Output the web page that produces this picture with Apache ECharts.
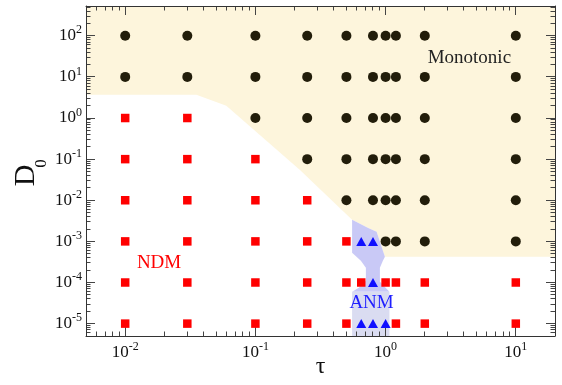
<!DOCTYPE html>
<html><head><meta charset="utf-8">
<script src="https://cdn.jsdelivr.net/npm/echarts@6/dist/echarts.min.js"></script>
<style>html,body{margin:0;padding:0;background:#fff}#c{width:562px;height:385px}</style>
</head><body><div id="c"></div>
<script>
// ---- data ----
const tauRange = [0.005, 20];
const d0Range = [5e-6, 530];
const tauTickLabels = [0.01, 0.1, 1, 10];
const d0TickLabels = [1e-5, 1e-4, 1e-3, 1e-2, 1e-1, 1, 10, 100];

const monotonicPts = [
  [0.01,100],[0.03,100],[0.1,100],[0.25,100],[0.5,100],[0.8,100],[1.0,100],[1.2,100],[2,100],[10,100],
  [0.01,10],[0.03,10],[0.1,10],[0.25,10],[0.5,10],[0.8,10],[1.0,10],[1.2,10],[2,10],[10,10],
  [0.1,1],[0.25,1],[0.5,1],[0.8,1],[1.0,1],[1.2,1],[2,1],[10,1],
  [0.25,0.1],[0.5,0.1],[0.8,0.1],[1.0,0.1],[1.2,0.1],[2,0.1],[10,0.1],
  [0.5,0.01],[0.8,0.01],[1.0,0.01],[1.2,0.01],[2,0.01],[10,0.01],
  [1.0,1e-3],[1.2,1e-3],[2,1e-3],[10,1e-3]
];
const ndmPts = [
  [0.01,1],[0.03,1],
  [0.01,0.1],[0.03,0.1],[0.1,0.1],
  [0.01,0.01],[0.03,0.01],[0.1,0.01],[0.25,0.01],
  [0.01,1e-3],[0.03,1e-3],[0.1,1e-3],[0.25,1e-3],[0.5,1e-3],
  [0.01,1e-4],[0.03,1e-4],[0.1,1e-4],[0.25,1e-4],[0.5,1e-4],[0.65,1e-4],[1.0,1e-4],[1.2,1e-4],[2,1e-4],[10,1e-4],
  [0.01,1e-5],[0.03,1e-5],[0.1,1e-5],[0.25,1e-5],[0.5,1e-5],[1.2,1e-5],[2,1e-5],[10,1e-5]
];
const anmPts = [
  [0.65,1e-3],[0.8,1e-3],
  [0.8,1e-4],
  [0.65,1e-5],[0.8,1e-5],[1.0,1e-5]
];

const monotonicRegion = [
  [0.005,530],[20,530],[20,4.25e-4],[0.988,4.25e-4],[0.853,1.72e-3],[0.735,2.12e-3],
  [0.553,3.36e-3],[0.219,0.0553],[0.0598,1.99],[0.0352,3.68],[0.005,3.68]
];
const anmUpperRegion = [
  [0.553,3.36e-3],[0.735,2.12e-3],[0.853,1.72e-3],[0.988,4.25e-4],[0.953,3.40e-4],
  [0.904,2.30e-4],[0.904,1.05e-4],[1.07,5.98e-5],[0.553,5.98e-5],[0.623,7.5e-5],
  [0.7056,1.11e-4],[0.7056,2.30e-4],[0.6457,3.40e-4],[0.553,5.31e-4]
];
const anmLowerRegion = [
  [0.553,5.98e-5],[1.07,5.98e-5],[1.07,5e-6],[0.553,5e-6]
];

// ---- helpers ----
const SERIF = '"Liberation Serif","Times New Roman",serif';
function minorTicks(range){
  const out=[];
  for(let e=-7;e<=4;e++){ for(let m=2;m<=9;m++){ const v=m*Math.pow(10,e); if(v>=range[0]&&v<=range[1]) out.push(v);} }
  return out;
}
const supRich = {
  b:{fontSize:17,fontFamily:SERIF,color:'#111'},
  s:{fontSize:12,fontFamily:SERIF,color:'#111',padding:[0,0,11,0]}
};
function expFmt(v){ return '{b|10}{s|'+Math.round(Math.log10(v))+'}'; }

function mkAxis(kind, pos, range, major, withLabels, extra){
  const ax = {
    type:'log', logBase:10, min:range[0], max:range[1], position:pos, z:10,
    axisLine:{show:true, onZero:false, lineStyle:{color:'#333',width:1}},
    axisTick:{show:false},
    axisLabel:{show:withLabels, customValues:major, formatter:expFmt, rich:supRich, margin:kind==='x'?5:4},
    splitLine:{show:false}, minorTick:{show:false}
  };
  return Object.assign(ax, extra||{});
}

const xAxes = [
  mkAxis('x','bottom',tauRange,tauTickLabels,true,{
    name:'τ', nameLocation:'middle', nameGap:19, nameMoveOverlap:false,
    nameTextStyle:{fontSize:24,fontFamily:SERIF,color:'#111'}
  }),
  mkAxis('x','top',tauRange,tauTickLabels,false)
];
const yAxes = [
  mkAxis('y','left',d0Range,d0TickLabels,true,{
    name:'{D|D}{s|0}', nameLocation:'middle', nameGap:36, nameRotate:90, nameMoveOverlap:false,
    nameTextStyle:{rich:{
      D:{fontSize:30,fontFamily:SERIF,color:'#111',width:15},
      s:{fontSize:17,fontFamily:SERIF,color:'#111',padding:[31,0,0,0],width:9}
    }}
  }),
  mkAxis('y','right',d0Range,d0TickLabels,false)
];

function regionSeries(region, color, z){
  return {
    type:'custom', xAxisIndex:0, yAxisIndex:0, z:z, silent:true, clip:true,
    data:[[1,1]],
    renderItem:function(params, api){
      const pts = region.map(p=>api.coord(p));
      return {type:'polygon', shape:{points:pts}, style:{fill:color, stroke:null}};
    }
  };
}

// inside tick marks for one side, drawn as a single comb-shaped polygon
// whose teeth are placed through the axes' own log scales
const tauTicks = tauTickLabels.map(v=>[v,9]).concat(minorTicks(tauRange).map(v=>[v,4.5]));
const d0Ticks = d0TickLabels.map(v=>[v,9]).concat(minorTicks(d0Range).map(v=>[v,4.5]));
function combSeries(side){
  return {
    type:'custom', xAxisIndex:0, yAxisIndex:0, z:2, silent:true, clip:true,
    data:[[1,1]],
    renderItem:function(params, api){
      const isX = side==='bottom' || side==='top';
      const list = (isX ? tauTicks : d0Ticks).map(t=>{
        const p = isX
          ? api.coord([t[0], side==='bottom' ? d0Range[0] : d0Range[1]])
          : api.coord([side==='left' ? tauRange[0] : tauRange[1], t[0]]);
        return {p:p, len:t[1]};
      });
      list.sort((a,b)=> isX ? a.p[0]-b.p[0] : a.p[1]-b.p[1]);
      const pts = [];
      list.forEach(it=>{
        const p = it.p, L = it.len;
        if (side==='bottom') { const x=Math.floor(p[0]), y=p[1]; pts.push([x,y],[x,y-L],[x+1,y-L],[x+1,y]); }
        else if (side==='top') { const x=Math.floor(p[0]), y=p[1]; pts.push([x,y],[x,y+L],[x+1,y+L],[x+1,y]); }
        else if (side==='left') { const y=Math.floor(p[1]), x=p[0]; pts.push([x,y],[x+L,y],[x+L,y+1],[x,y+1]); }
        else { const y=Math.floor(p[1]), x=p[0]; pts.push([x,y],[x-L,y],[x-L,y+1],[x,y+1]); }
      });
      return {type:'polygon', shape:{points:pts}, style:{fill:'#444', stroke:null}};
    }
  };
}

function textSeries(text, at, color){
  return {
    type:'scatter', xAxisIndex:0, yAxisIndex:0, symbolSize:0, silent:true, z:5,
    itemStyle:{opacity:1},
    data:[at],
    label:{show:true, position:'inside', formatter:text, fontSize:19, fontFamily:SERIF, color:color}
  };
}

const chart = echarts.init(document.getElementById('c'), null, {renderer:'canvas'});
chart.setOption({
  backgroundColor:'#fff',
  animation:false,
  grid:{left:86, right:7, top:6, bottom:49, containLabel:false, outerBoundsMode:'none'},
  xAxis:xAxes,
  yAxis:yAxes,
  series:[
    regionSeries(monotonicRegion,'#FDF5DC',1),
    regionSeries(anmUpperRegion,'#C9C9F6',2),
    regionSeries(anmLowerRegion,'#DADCF1',2),
    combSeries('bottom'), combSeries('top'), combSeries('left'), combSeries('right'),
    {type:'scatter', name:'Monotonic', data:monotonicPts, symbol:'circle', symbolSize:10, itemStyle:{color:'#221D0A',opacity:1}, z:3},
    {type:'scatter', name:'NDM', data:ndmPts, symbol:'rect', symbolSize:8.5, itemStyle:{color:'#FF0000',opacity:1}, z:3},
    {type:'scatter', name:'ANM', data:anmPts, symbol:'triangle', symbolSize:[10,9], itemStyle:{color:'#1010FF',opacity:1}, z:3},
    textSeries('Monotonic',[4.4,29],'#222'),
    textSeries('NDM',[0.0182,2.95e-4],'#FF0000'),
    textSeries('ANM',[0.78,3.24e-5],'#2020FF')
  ]
});
</script></body></html>
